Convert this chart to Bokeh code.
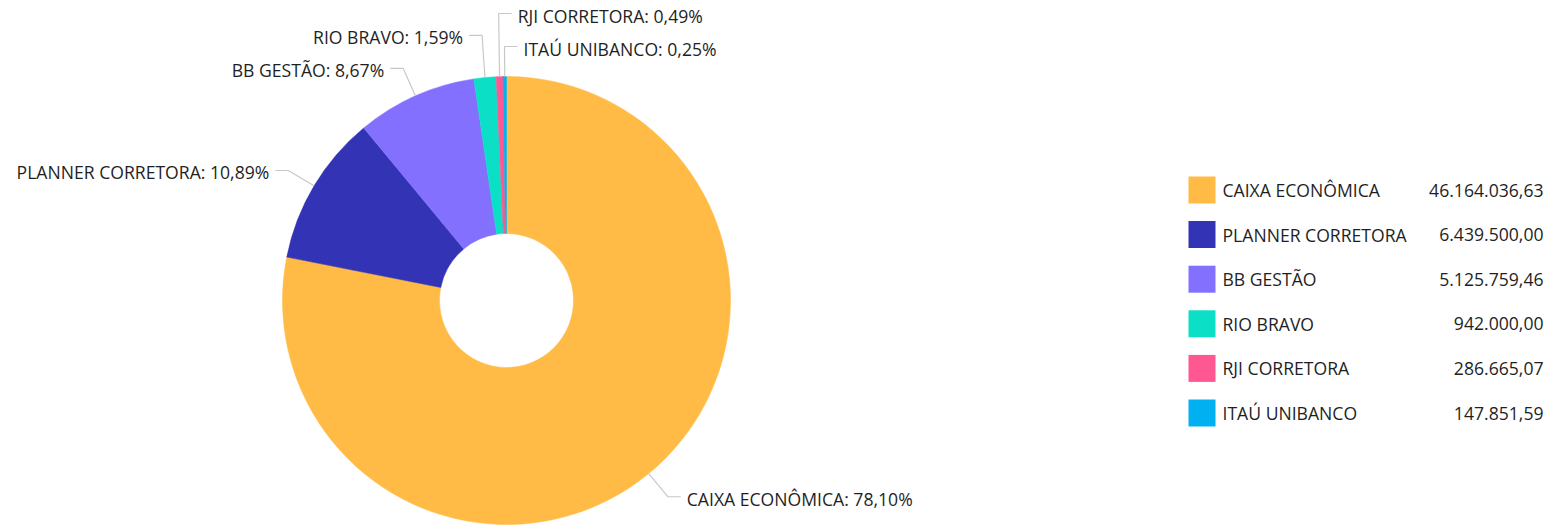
import math
from bokeh.plotting import figure
from bokeh.models import Range1d, ColumnDataSource
from bokeh.core.properties import value
from bokeh.embed import file_html
from bokeh.resources import INLINE

# ---- data ----
names = ["CAIXA ECONÔMICA", "PLANNER CORRETORA", "BB GESTÃO", "RIO BRAVO", "RJI CORRETORA", "ITAÚ UNIBANCO"]
amounts = [46164036.63, 6439500.00, 5125759.46, 942000.00, 286665.07, 147851.59]
colors = ["#FFBB45", "#3333B5", "#8370FF", "#0BE0C6", "#FF5791", "#00B0F0"]

FONT = "Open Sans"
FS = "17.6px"
W, H = 1548, 526


def fmt_br(v, dec=2):
    s = f"{v:,.{dec}f}"
    return s.replace(",", "X").replace(".", ",").replace("X", ".")


total = sum(amounts)
fracs = [a / total for a in amounts]

p = figure(width=W, height=H, x_range=Range1d(0, W), y_range=Range1d(0, H),
           output_backend="svg", toolbar_location=None, min_border=0,
           x_axis_type=None, y_axis_type=None)
p.grid.visible = False
p.outline_line_color = None
p.background_fill_color = "white"

# pie geometry (figure pixel coords, y up)
cx, cy = 506, 226
R_out, R_in = 224, 67

starts, ends, mids = [], [], []
cum = 0.0
for f in fracs:
    a0 = math.pi / 2 - cum * 2 * math.pi
    cum += f
    a1 = math.pi / 2 - cum * 2 * math.pi
    starts.append(a0)
    ends.append(a1)
    mids.append((a0 + a1) / 2)

src = ColumnDataSource(dict(start=starts, end=ends, color=colors))
p.annular_wedge(x=cx, y=cy, inner_radius=R_in, outer_radius=R_out,
                start_angle="start", end_angle="end", direction="clock",
                fill_color="color", line_color="color", line_width=0.5, source=src)

# ---- labels with leader lines ----
L1, L2, GAP, SPACING = 30, 13, 6, 33
info = []
for i, a in enumerate(mids):
    ca, sa = math.cos(a), math.sin(a)
    ex, ey = cx + R_out * ca, cy + R_out * sa
    bx, by = ex + L1 * ca, ey + L1 * sa
    side = "right" if ca >= -0.05 else "left"
    an = math.atan2(sa, ca)
    info.append(dict(i=i, ex=ex, ey=ey, bx=bx, by=by, side=side, ang=an))

right = sorted([d for d in info if d["side"] == "right"], key=lambda d: d["ang"])
left = sorted([d for d in info if d["side"] == "left"], key=lambda d: -d["ang"])
for group in (right, left):
    prev = None
    for d in group:
        if prev is not None and d["by"] < prev + SPACING:
            d["by"] = prev + SPACING
        prev = d["by"]

xs, ys, tx, ty, tt, ta = [], [], [], [], [], []
for d in info:
    sgn = 1 if d["side"] == "right" else -1
    hx = d["bx"] + sgn * L2
    xs.append([d["ex"], d["bx"], hx])
    ys.append([d["ey"], d["by"], d["by"]])
    tx.append(hx + sgn * GAP)
    ty.append(d["by"] - 2)
    tt.append(f"{names[d['i']]}: {fmt_br(fracs[d['i']] * 100)}%")
    ta.append("left" if sgn > 0 else "right")

p.multi_line(xs=xs, ys=ys, line_color="#c8c8c8", line_width=1.2)
lab = ColumnDataSource(dict(x=tx, y=ty, text=tt, align=ta))
p.text(x="x", y="y", text="text", text_align="align", text_baseline="middle",
       text_font=value(FONT), text_font_size=FS, text_color="#1f1f1f", source=lab)

# ---- legend ----
leg_x, leg_y0, leg_dy, sq = 1188, 336.5, 44.6, 27
val_x = 1543
ly = [leg_y0 - k * leg_dy for k in range(len(names))]
leg = ColumnDataSource(dict(
    x=[leg_x + sq / 2] * len(names), y=ly, color=colors,
    tx=[leg_x + sq + 7] * len(names), name=names,
    vx=[val_x] * len(names), val=[fmt_br(a) for a in amounts]))
p.rect(x="x", y="y", width=sq, height=sq, fill_color="color", line_color=None, source=leg)
p.text(x="tx", y="y", text="name", text_align="left", text_baseline="middle",
       text_font=value(FONT), text_font_size=FS, text_color="#1f1f1f", source=leg)
p.text(x="vx", y="y", text="val", text_align="right", text_baseline="middle",
       text_font=value(FONT), text_font_size=FS, text_color="#1f1f1f", source=leg)

open("out.html", "w").write(file_html(p, INLINE))
